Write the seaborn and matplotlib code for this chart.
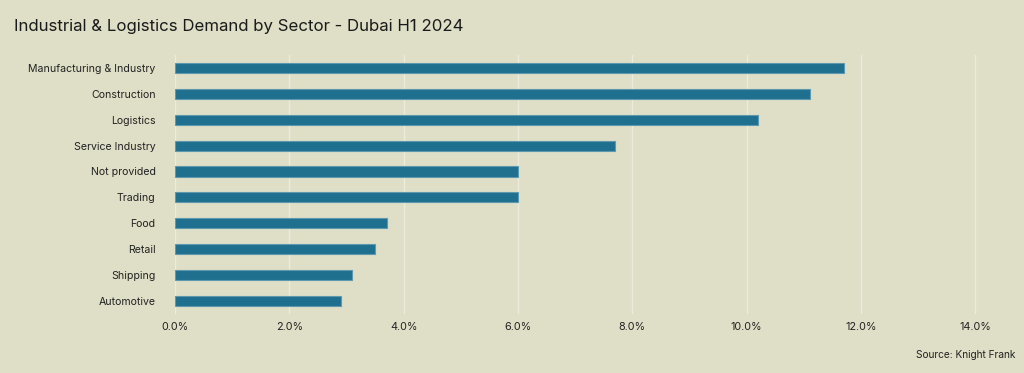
import matplotlib.pyplot as plt
import seaborn as sns
import pandas as pd
from matplotlib.ticker import PercentFormatter

sectors = ["Manufacturing & Industry", "Construction", "Logistics", "Service Industry",
           "Not provided", "Trading", "Food", "Retail", "Shipping", "Automotive"]
shares = [11.7, 11.1, 10.2, 7.7, 6.0, 6.0, 3.7, 3.5, 3.1, 2.9]

df = pd.DataFrame({"sector": sectors, "share": shares})

bg = "#DFDEC6"
sns.set_theme(style="whitegrid")
plt.rcParams["font.family"] = ["Inter", "DejaVu Sans"]

fig = plt.figure(figsize=(10.24, 3.73), dpi=100, facecolor=bg)
ax = fig.add_axes([0.171, 0.158, 0.815, 0.695], facecolor=bg)

sns.barplot(data=df, x="share", y="sector", color="#1F6F8F", width=0.39,
            edgecolor="#5E98AE", linewidth=0.8, saturation=1, ax=ax)

ax.set_xlim(0, 14.6)
ax.set_xticks(range(0, 15, 2))
ax.xaxis.set_major_formatter(PercentFormatter(decimals=1))
ax.grid(axis="x", color="#EDECDC", linewidth=1)
ax.grid(axis="y", visible=False)
for s in ax.spines.values():
    s.set_visible(False)
ax.set_xlabel("")
ax.set_ylabel("")
ax.tick_params(axis="y", labelsize=7.6, pad=14, colors="#222222")
ax.tick_params(axis="x", labelsize=7.8, pad=6, colors="#222222")
ax.tick_params(length=0)

fig.text(0.014, 0.93, "Industrial & Logistics Demand by Sector - Dubai H1 2024",
         fontsize=12.1, color="#1A1A1A", va="center")
fig.text(0.992, 0.048, "Source: Knight Frank", fontsize=7.3, color="#222222",
         ha="right", va="center")

plt.savefig("out.png", dpi=100, facecolor=bg)
plt.close()
